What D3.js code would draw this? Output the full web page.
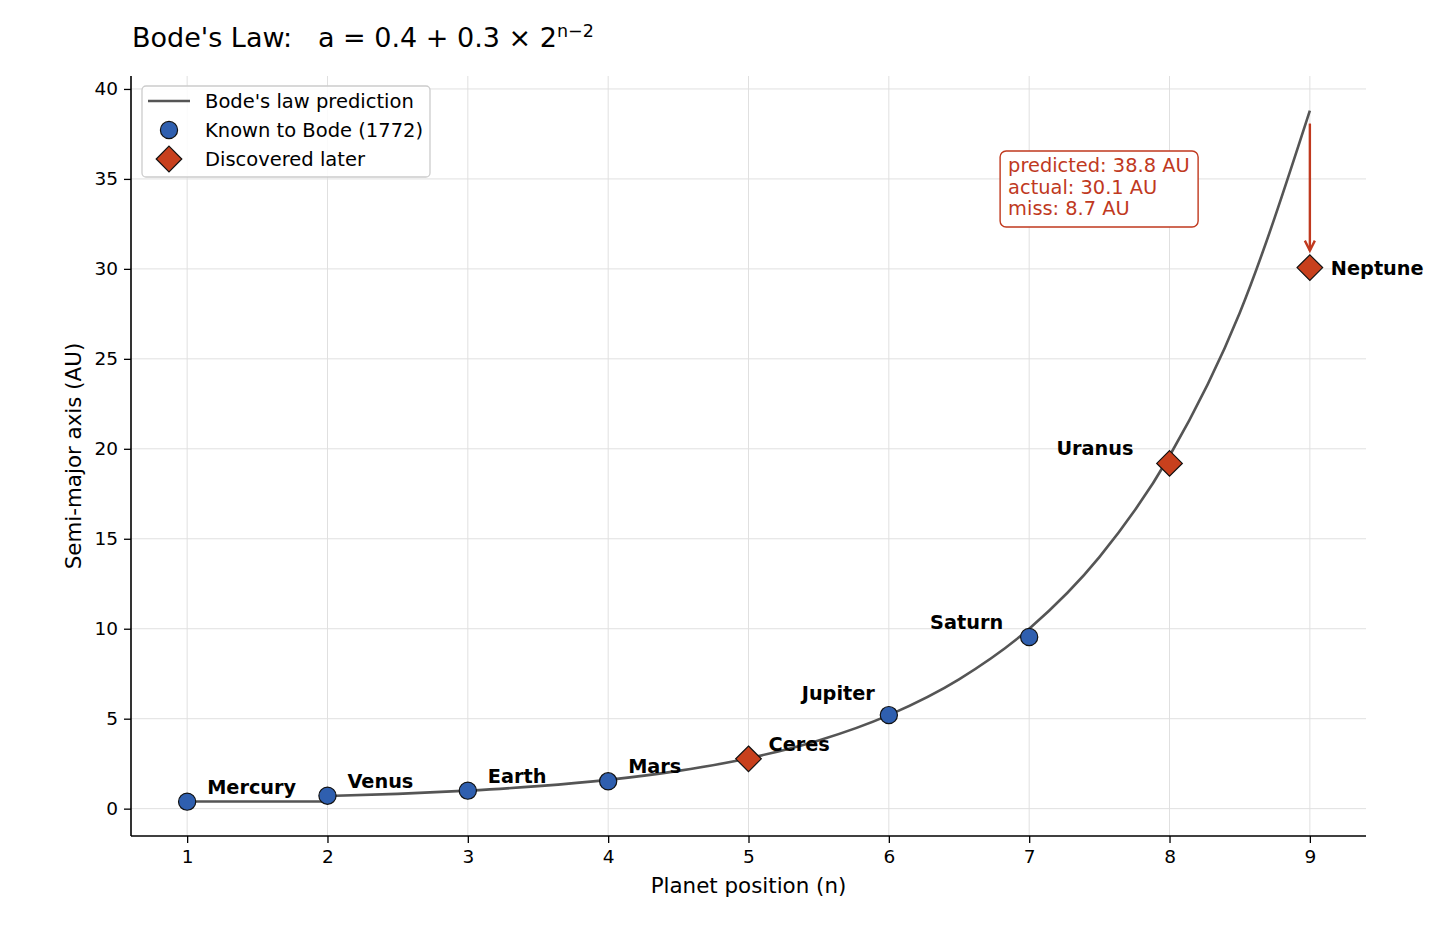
<!DOCTYPE html>
<html>
<head>
<meta charset="utf-8">
<script src="https://cdn.jsdelivr.net/npm/d3@7"></script>
<style>
  html, body { margin: 0; padding: 0; background: #fff; }
  svg { display: block; font-family: "DejaVu Sans", sans-serif; }
</style>
</head>
<body>
<svg id="chart" width="1456" height="927"></svg>
<script>
// ---------- data ----------
const planets   = ["Mercury", "Venus", "Earth", "Mars", "Ceres", "Jupiter", "Saturn", "Uranus", "Neptune"];
const positions = [1, 2, 3, 4, 5, 6, 7, 8, 9];
const actualAU  = [0.39, 0.72, 1.00, 1.52, 2.77, 5.20, 9.54, 19.19, 30.07];
const knownToBode = [true, true, true, true, false, true, true, false, false];

// Bode's law prediction curve
const flatN    = [1, 2];
const flatA    = [0.4, 0.4];
const curveN   = [2, 2.5, 3, 3.5, 4, 4.5, 5, 5.5, 6, 6.5, 7, 7.5, 8, 8.5, 9];
const curveA   = [0.7, 0.82, 1.0, 1.25, 1.6, 2.1, 2.8, 3.79, 5.2, 7.19, 10.0, 13.98, 19.6, 27.55, 38.8];

const xTicks = [1, 2, 3, 4, 5, 6, 7, 8, 9];
const yTicks = [0, 5, 10, 15, 20, 25, 30, 35, 40];

const annotationLines = ["predicted: 38.8 AU", "actual: 30.1 AU", "miss: 8.7 AU"];
const legendLabels = ["Bode's law prediction", "Known to Bode (1772)", "Discovered later"];

// ---------- layout / style ----------
const labelOffsets = {
  Mercury: { dx: 20, dy: -8, anchor: "start" },
  Venus:   { dx: 20, dy: -8, anchor: "start" },
  Earth:   { dx: 20, dy: -8, anchor: "start" },
  Mars:    { dx: 20, dy: -8, anchor: "start" },
  Ceres:   { dx: 20, dy: -8, anchor: "start" },
  Jupiter: { dx: -14, dy: -15, anchor: "end" },
  Saturn:  { dx: -26, dy: -8, anchor: "end" },
  Uranus:  { dx: -36, dy: -8, anchor: "end" },
  Neptune: { dx: 21, dy: 7, anchor: "start" }
};
const BLUE = "#2f5faf", RED = "#c8401d", ANN = "#c0391e", LINE = "#555555", GRID = "#e0e0e0";

const svg = d3.select("#chart");
const M = { left: 131, right: 1366, top: 76, bottom: 836 };

const x = d3.scaleLinear().domain([0.6, 9.4]).range([M.left, M.right]);
const y = d3.scaleLinear().domain([-1.52, 40.72]).range([M.bottom, M.top]);

// grid
const g = svg.append("g");
g.selectAll(".gx").data(xTicks).enter().append("line")
  .attr("x1", d => x(d)).attr("x2", d => x(d))
  .attr("y1", M.top).attr("y2", M.bottom)
  .attr("stroke", GRID).attr("stroke-width", 1);
g.selectAll(".gy").data(yTicks).enter().append("line")
  .attr("y1", d => y(d)).attr("y2", d => y(d))
  .attr("x1", M.left).attr("x2", M.right)
  .attr("stroke", GRID).attr("stroke-width", 1);

// axes
const xAxis = d3.axisBottom(x).tickValues(xTicks).tickSize(7).tickPadding(7).tickFormat(d3.format("d"));
const yAxis = d3.axisLeft(y).tickValues(yTicks).tickSize(7).tickPadding(6).tickFormat(d3.format("d"));
const gx = svg.append("g").attr("transform", `translate(0,${M.bottom})`).call(xAxis);
const gy = svg.append("g").attr("transform", `translate(${M.left},0)`).call(yAxis);
[gx, gy].forEach(a => {
  a.select(".domain").remove();
  a.selectAll(".tick line").attr("stroke", "#000").attr("stroke-width", 1.3);
  a.selectAll(".tick text").attr("font-size", 18.5).attr("fill", "#000")
    .attr("font-family", "DejaVu Sans, sans-serif");
});
// spines
svg.append("line").attr("x1", M.left).attr("x2", M.left).attr("y1", M.top).attr("y2", M.bottom)
  .attr("stroke", "#000").attr("stroke-width", 1.6);
svg.append("line").attr("x1", M.left).attr("x2", M.right).attr("y1", M.bottom).attr("y2", M.bottom)
  .attr("stroke", "#000").attr("stroke-width", 1.6);

// axis labels
svg.append("text").attr("x", (M.left + M.right) / 2).attr("y", 893)
  .attr("text-anchor", "middle").attr("font-size", 21.4).text("Planet position (n)");
svg.append("text").attr("transform", `translate(81,${(M.top + M.bottom) / 2}) rotate(-90)`)
  .attr("text-anchor", "middle").attr("font-size", 21.4).text("Semi-major axis (AU)");

// title
const title = svg.append("text").attr("x", 132).attr("y", 47).attr("font-size", 27).attr("xml:space", "preserve");
title.append("tspan").text("Bode's Law:   a = 0.4 + 0.3 × 2");
title.append("tspan").attr("font-size", 17.5).attr("dy", -10).text("n−2");

// prediction curve
const line = d3.line().x(d => x(d[0])).y(d => y(d[1])).curve(d3.curveMonotoneX);
svg.append("path").datum(flatN.map((n, i) => [n, flatA[i]]))
  .attr("d", d3.line().x(d => x(d[0])).y(d => y(d[1])))
  .attr("fill", "none").attr("stroke", LINE).attr("stroke-width", 2.6);
svg.append("path").datum(curveN.map((n, i) => [n, curveA[i]]))
  .attr("d", line).attr("fill", "none").attr("stroke", LINE).attr("stroke-width", 2.6);

// points
const pts = planets.map((p, i) => ({ name: p, n: positions[i], a: actualAU[i], known: knownToBode[i] }));
svg.selectAll(".known").data(pts.filter(d => d.known)).enter().append("circle")
  .attr("cx", d => x(d.n)).attr("cy", d => y(d.a)).attr("r", 8.6)
  .attr("fill", BLUE).attr("stroke", "#111").attr("stroke-width", 1.2);
const dsz = 12.8;
svg.selectAll(".later").data(pts.filter(d => !d.known)).enter().append("path")
  .attr("transform", d => `translate(${x(d.n)},${y(d.a)})`)
  .attr("d", `M0,${-dsz}L${dsz},0L0,${dsz}L${-dsz},0Z`)
  .attr("fill", RED).attr("stroke", "#111").attr("stroke-width", 1.2);

// labels
svg.selectAll(".plabel").data(pts).enter().append("text")
  .attr("x", d => x(d.n) + labelOffsets[d.name].dx)
  .attr("y", d => y(d.a) + labelOffsets[d.name].dy)
  .attr("text-anchor", d => labelOffsets[d.name].anchor)
  .attr("font-size", 19.3).attr("font-weight", "bold").attr("fill", "#000")
  .text(d => d.name);

// annotation arrow (from predicted to actual for Neptune)
const nep = pts[8];
const predNep = curveA[curveA.length - 1];
const ax = x(nep.n), ay1 = y(predNep) + 13, ay2 = y(nep.a) - 17;
svg.append("line").attr("x1", ax).attr("x2", ax).attr("y1", ay1).attr("y2", ay2)
  .attr("stroke", ANN).attr("stroke-width", 2.4);
svg.append("path")
  .attr("d", `M${ax - 5},${ay2 - 10}L${ax},${ay2}L${ax + 5},${ay2 - 10}`)
  .attr("fill", "none").attr("stroke", ANN).attr("stroke-width", 2.4).attr("stroke-linejoin", "miter");

// annotation box
const bx = x(6.8) - 1, by = y(36.5) - 1;
svg.append("rect").attr("x", bx).attr("y", by).attr("width", 198).attr("height", 76)
  .attr("rx", 6).attr("ry", 6).attr("fill", "#fff").attr("stroke", ANN).attr("stroke-width", 1.4);
svg.selectAll(".ann").data(annotationLines).enter().append("text")
  .attr("x", bx + 8).attr("y", (d, i) => by + 21.5 + i * 21.5)
  .attr("font-size", 19.4).attr("fill", ANN).text(d => d);

// legend
const lg = svg.append("g");
lg.append("rect").attr("x", 142).attr("y", 86).attr("width", 288).attr("height", 91)
  .attr("rx", 4).attr("ry", 4).attr("fill", "#fff").attr("fill-opacity", 0.85)
  .attr("stroke", "#cccccc").attr("stroke-width", 1.3);
lg.append("line").attr("x1", 148).attr("x2", 190).attr("y1", 101).attr("y2", 101)
  .attr("stroke", LINE).attr("stroke-width", 2.6);
lg.append("circle").attr("cx", 169).attr("cy", 130).attr("r", 8.6)
  .attr("fill", BLUE).attr("stroke", "#111").attr("stroke-width", 1.2);
lg.append("path").attr("transform", "translate(169,159)")
  .attr("d", `M0,${-dsz}L${dsz},0L0,${dsz}L${-dsz},0Z`)
  .attr("fill", RED).attr("stroke", "#111").attr("stroke-width", 1.2);
lg.selectAll(".lt").data(legendLabels).enter().append("text")
  .attr("x", 205).attr("y", (d, i) => 108 + i * 29)
  .attr("font-size", 19.5).attr("fill", "#000").text(d => d);
</script>
</body>
</html>
